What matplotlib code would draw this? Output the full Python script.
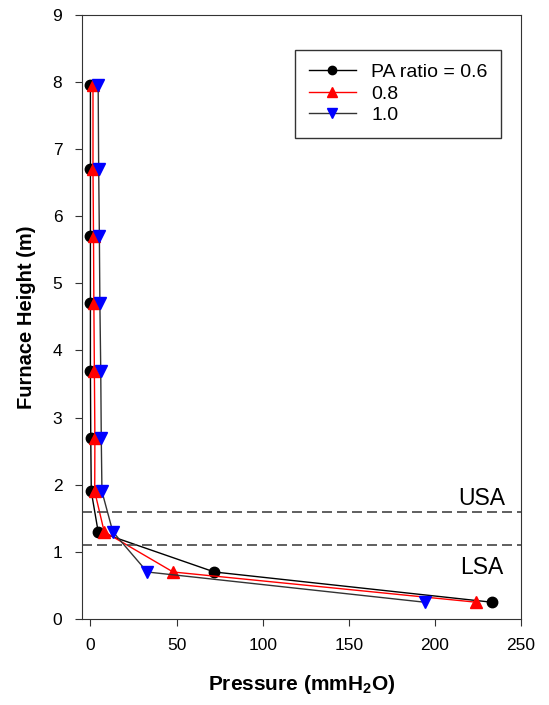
import matplotlib
matplotlib.use("Agg")
import matplotlib.pyplot as plt

plt.rcParams['font.family'] = ['Liberation Sans', 'DejaVu Sans']
plt.rcParams['mathtext.default'] = 'regular'

height = [7.95, 6.7, 5.7, 4.7, 3.7, 2.7, 1.9, 1.3, 0.7, 0.25]
p_06 = [0.0, 0.0, 0.0, 0.0, 0.0, 0.2, 0.5, 4.5, 72, 233]
p_08 = [1.5, 1.5, 1.8, 2.0, 2.3, 2.6, 2.5, 8.0, 48, 224]
p_10 = [4.5, 4.8, 5.2, 5.5, 6.0, 6.3, 6.7, 13.0, 33, 194]
labels = ['PA ratio = 0.6', '0.8', '1.0']
usa_y = 1.6
lsa_y = 1.1

fig = plt.figure(figsize=(5.49, 7.05), dpi=100)
ax = fig.add_axes([0.149, 0.122, 0.800, 0.857])

ax.plot(p_06, height, color='black', lw=1, marker='o', ms=7.5, mfc='black', mec='black', label=labels[0])
ax.plot(p_08, height, color='red', lw=1, marker='^', ms=9, mfc='red', mec='red', label=labels[1])
ax.plot(p_10, height, color='#333333', lw=1, marker='v', ms=9, mfc='blue', mec='blue', label=labels[2])

ax.axhline(usa_y, color='#444444', lw=1.2, ls=(0, (6, 3)))
ax.axhline(lsa_y, color='#444444', lw=1.2, ls=(0, (6, 3)))
ax.text(227, 1.8, 'USA', ha='center', va='center', fontsize=16.5)
ax.text(227, 0.77, 'LSA', ha='center', va='center', fontsize=16.5)

ax.set_xlim(-5, 250)
ax.set_ylim(0, 9)
ax.set_xticks([0, 50, 100, 150, 200, 250])
ax.set_yticks(range(0, 10))
ax.tick_params(direction='out', labelsize=12.5, length=5, pad=9, color='#333333')
for s in ax.spines.values():
    s.set_color('#333333')

ax.set_xlabel('Pressure (mmH$_2$O)', fontsize=15, fontweight='bold', labelpad=14)
ax.set_ylabel('Furnace Height (m)', fontsize=14.5, fontweight='bold', labelpad=12)

leg = ax.legend(loc='upper right', bbox_to_anchor=(0.955, 0.942), fontsize=14,
                fancybox=False, edgecolor='#333333', framealpha=1,
                handlelength=2.4, labelspacing=0.2, borderpad=0.7,
                borderaxespad=0.0, markerscale=0.8)
leg.get_frame().set_linewidth(1.0)

fig.savefig('out.png', dpi=100)
